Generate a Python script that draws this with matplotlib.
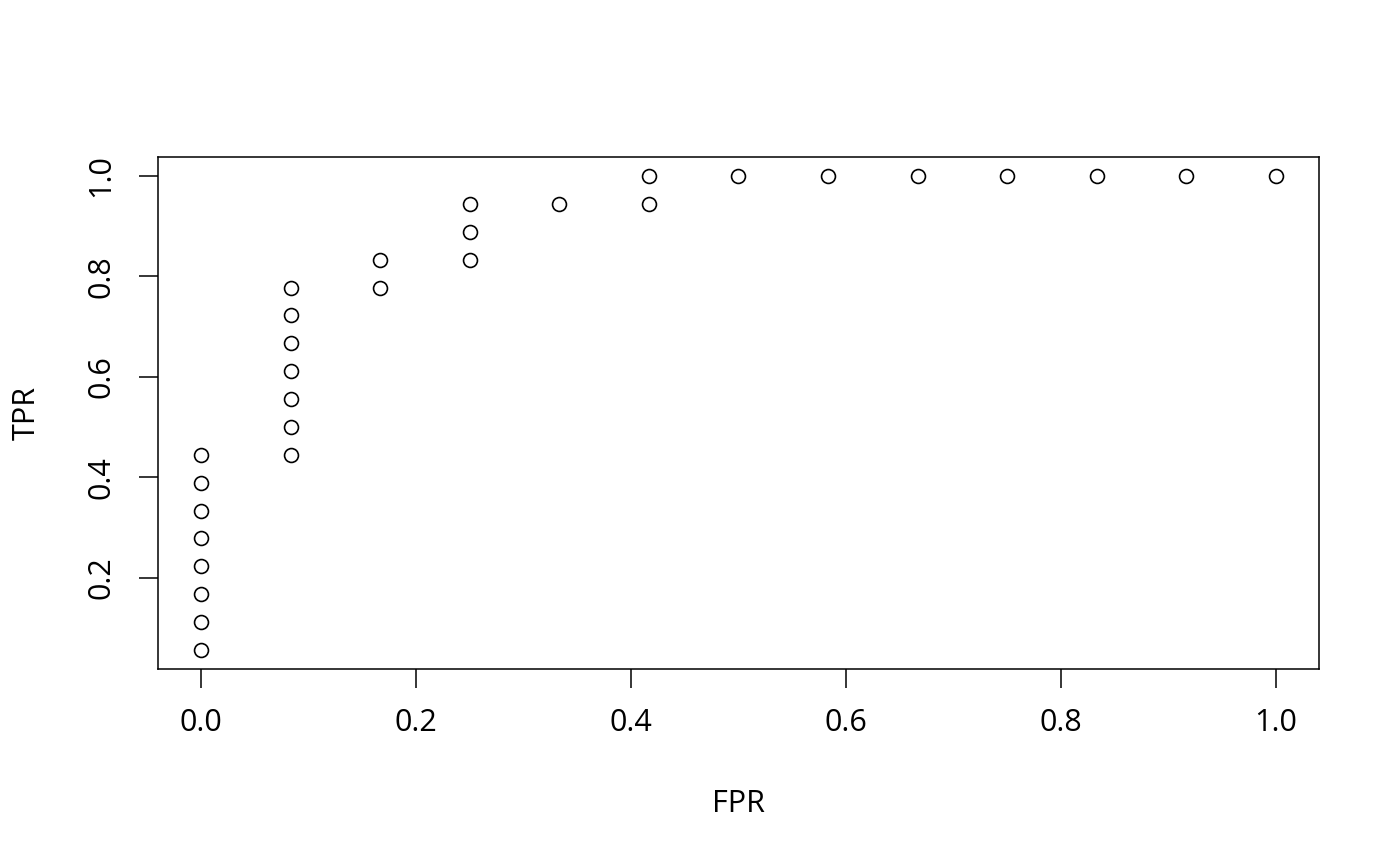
import numpy as np
import matplotlib
matplotlib.use("Agg")
import matplotlib.pyplot as plt

plt.rcParams['font.family'] = ['Open Sans', 'DejaVu Sans']

# ROC points: FPR steps of 1/12, TPR steps of 1/18
fpr_num = [0, 0, 0, 0, 0, 0, 0, 0,
           1, 1, 1, 1, 1, 1, 1,
           2, 2,
           3, 3, 3,
           4,
           5, 5,
           6, 7, 8, 9, 10, 11, 12]
tpr_num = [1, 2, 3, 4, 5, 6, 7, 8,
           8, 9, 10, 11, 12, 13, 14,
           14, 15,
           15, 16, 17,
           17,
           17, 18,
           18, 18, 18, 18, 18, 18, 18]
fpr = np.array(fpr_num) / 12.0
tpr = np.array(tpr_num) / 18.0

xticks = [0.0, 0.2, 0.4, 0.6, 0.8, 1.0]
yticks = [0.2, 0.4, 0.6, 0.8, 1.0]

fig = plt.figure(figsize=(14, 8.66), dpi=100)
ax = fig.add_axes([158/1400, 1 - 669/866, (1319-158)/1400, (669-157)/866])

ax.plot(fpr, tpr, 'o', mfc='none', mec='black', ms=10, mew=1.2)

def pad(lo, hi):
    d = (hi - lo) * 0.04
    return lo - d, hi + d

ax.set_xlim(*pad(fpr.min(), fpr.max()))
ax.set_ylim(*pad(tpr.min(), tpr.max()))
ax.set_xticks(xticks)
ax.set_xticklabels(["%.1f" % v for v in xticks])
ax.set_yticks(yticks)
ax.set_yticklabels(["%.1f" % v for v in yticks], rotation=90, va='center')

for s in ax.spines.values():
    s.set_linewidth(1.1)
ax.tick_params(direction='out', length=14, width=1.1, labelsize=22)
ax.tick_params(axis='x', pad=14)
ax.tick_params(axis='y', pad=16)
ax.set_xlabel("FPR", fontsize=22, labelpad=37)
ax.set_ylabel("TPR", fontsize=22, labelpad=32)

fig.savefig("out.png", dpi=100)
